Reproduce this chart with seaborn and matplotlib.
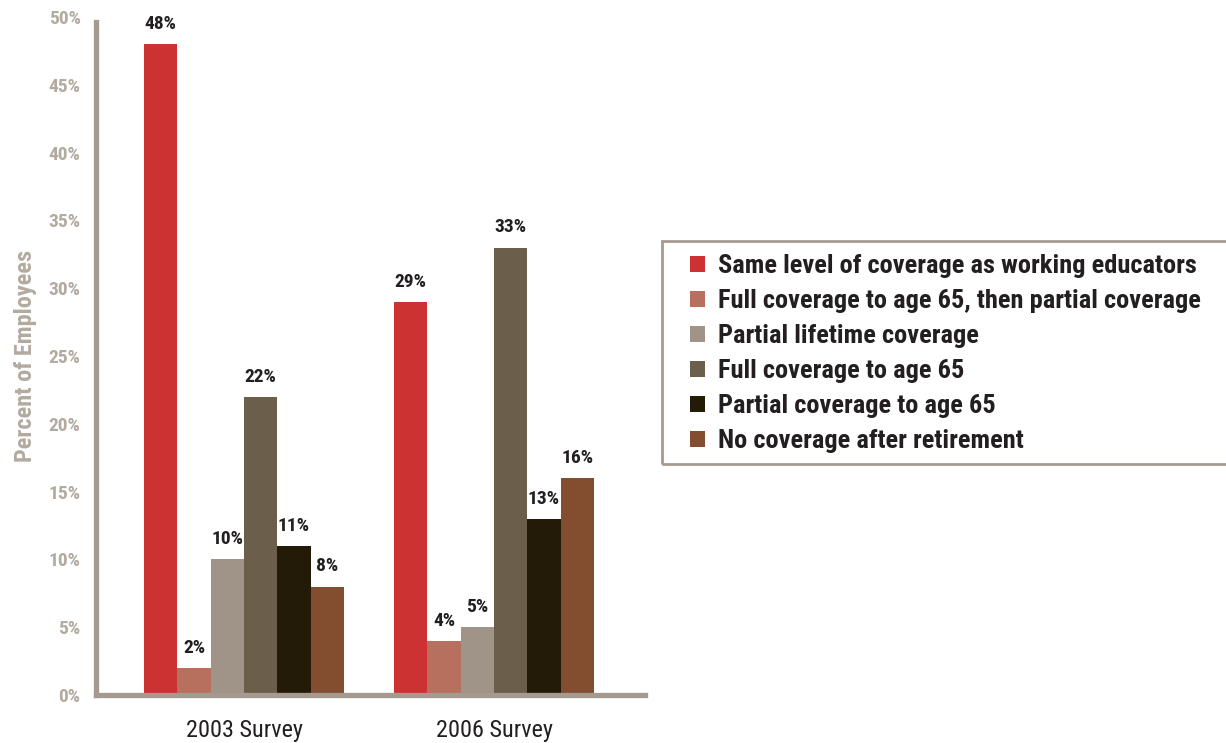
import matplotlib
matplotlib.use("Agg")
import matplotlib.pyplot as plt
import seaborn as sns
import pandas as pd
from matplotlib.patches import Rectangle

surveys = ["2003 Survey", "2006 Survey"]
categories = [
    "Same level of coverage as working educators",
    "Full coverage to age 65, then partial coverage",
    "Partial lifetime coverage",
    "Full coverage to age 65",
    "Partial coverage to age 65",
    "No coverage after retirement",
]
values_2003 = [48, 2, 10, 22, 11, 8]
values_2006 = [29, 4, 5, 33, 13, 16]
y_ticks = [0, 5, 10, 15, 20, 25, 30, 35, 40, 45, 50]

colors = ["#cd3233", "#b8705e", "#a09489", "#6b5e4b", "#241a08", "#834d30"]
axis_grey = "#a59a90"
tick_grey = "#b3aaa0"
ink = "#231f20"

sns.set_theme(style="white")
plt.rcParams["font.family"] = ["Roboto Condensed", "DejaVu Sans"]

df = pd.DataFrame({
    "survey": [s for s in surveys for _ in categories],
    "category": categories * 2,
    "value": values_2003 + values_2006,
})

W, H = 1226, 743
fig = plt.figure(figsize=(W / 100, H / 100), dpi=100)
ax = fig.add_axes([96 / W, 1 - 695 / H, (645 - 96) / W, (695 - 17) / H])

sns.barplot(data=df, x="survey", y="value", hue="category", hue_order=categories,
            palette=colors, width=0.8, saturation=1, linewidth=0, ax=ax, legend=True)

for container in ax.containers:
    ax.bar_label(container, fmt="%d%%", padding=8, fontsize=14,
                 fontweight="bold", color=ink)

ax.set_xlim(-0.592, 1.604)
ax.set_ylim(0, 50)
ax.set_yticks(y_ticks)
ax.set_yticklabels([f"{t}%" for t in y_ticks], fontsize=14, fontweight="bold", color=tick_grey)
ax.tick_params(axis="y", length=0, pad=11)
ax.tick_params(axis="x", length=0, pad=17, labelsize=17.5, labelcolor=ink)
ax.set_xlabel("")
ax.set_ylabel("Percent of Employees", fontsize=17.5, fontweight="bold", color=tick_grey, labelpad=8)

for side in ["top", "right"]:
    ax.spines[side].set_visible(False)
for side in ["left", "bottom"]:
    ax.spines[side].set_color(axis_grey)
    ax.spines[side].set_linewidth(3.8)
ax.spines["left"].set_bounds(0, 49.6)

# legend box running off the right edge of the figure
fig.patches.append(Rectangle((662 / W, 1 - 464 / H), (1240 - 662) / W, (464 - 241) / H,
                             transform=fig.transFigure, fill=False,
                             edgecolor=axis_grey, linewidth=2))

handles, labels = ax.get_legend_handles_labels()
ax.get_legend().remove()
leg = fig.legend(handles, labels, loc="upper left",
                 bbox_to_anchor=(690 / W, 1 - 254 / H),
                 frameon=False, prop={"weight": "bold", "size": 19},
                 handlelength=0.55, handleheight=0.55, handletextpad=0.5,
                 labelspacing=0.42, borderpad=0, borderaxespad=0)
for t in leg.get_texts():
    t.set_color(ink)

fig.savefig("out.png", dpi=100)
